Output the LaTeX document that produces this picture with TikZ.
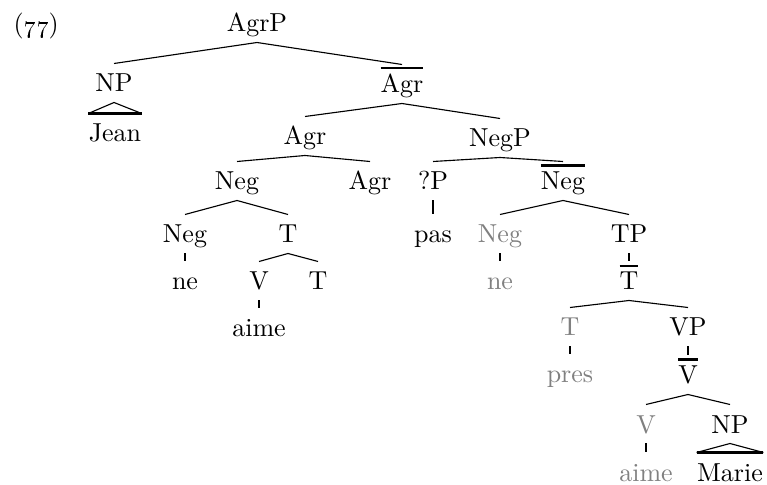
\documentclass[tikz,border=0pt]{standalone}
\newcommand\xbar[1]{\vbox{\hrule height 1.1pt\kern 2pt\hbox{#1}}}
\tikzset{
  lab/.style={anchor=base, inner sep=0pt, text height=11.2pt, text depth=4pt,
    font=\fontsize{10.4}{12}\selectfont},
  ghost/.style={lab, text=black!50},
  edge/.style={line width=0.45pt},
  unary/.style={line width=1pt},
  barlink/.style={line width=0.7pt},
}
\begin{document}
\begin{tikzpicture}[x=0.4pt,y=-0.4pt]
\path[use as bounding box] (0,0) rectangle (767,485);
\node[lab, anchor=base west] (ex) at (13,33) {(\oldstylenums{77})};
% nodes
\node[lab] (agrp) at (257,32) {AgrP};
\node[lab] (np1) at (114,92) {NP};
\node[lab] (agrbar) at (402,93) {\xbar{Agr}};
\node[lab] (jean) at (115,142) {Jean};
\node[lab] (agr3) at (305,145) {Agr};
\node[lab] (negp) at (500,147) {NegP};
\node[lab] (neg4) at (237,190) {Neg};
\node[lab] (agr4) at (370,190) {Agr};
\node[lab] (qp) at (433,190) {?P};
\node[lab] (negbar) at (563,190) {\xbar{Neg}};
\node[lab] (neg5) at (185,243) {Neg};
\node[lab] (t5) at (288,243) {T};
\node[lab] (pas) at (433,243) {pas};
\node[ghost] (neggr) at (500,243) {Neg};
\node[lab] (tp) at (629,243) {TP};
\node[lab] (ne6) at (185,290) {ne};
\node[lab] (v6) at (259,290) {V};
\node[lab] (t6) at (318,290) {T};
\node[ghost] (negr) at (500,290) {ne};
\node[lab] (tbar) at (629,290) {\xbar{T}};
\node[lab] (aime7) at (259,337) {aime};
\node[ghost] (tgr) at (570,336) {T};
\node[lab] (vp) at (688,336) {VP};
\node[ghost] (pres) at (570,383) {pres};
\node[lab] (vbar) at (688,384) {\xbar{V}};
\node[ghost] (vgr) at (646,433) {V};
\node[lab] (np2) at (730,433) {NP};
\node[ghost] (aimegr) at (646,481) {aime};
\node[lab] (marie) at (730,481) {Marie};
% branching edges
\draw[edge] (agrp.south) -- (np1.north);
\draw[edge] (agrp.south) -- (agrbar.north);
\draw[edge] (agrbar.south) -- (agr3.north);
\draw[edge] (agrbar.south) -- (negp.north);
\draw[edge] (agr3.south) -- (neg4.north);
\draw[edge] (agr3.south) -- (agr4.north);
\draw[edge] (negp.south) -- (qp.north);
\draw[edge] (negp.south) -- (negbar.north);
\draw[edge] (neg4.south) -- (neg5.north);
\draw[edge] (neg4.south) -- (t5.north);
\draw[edge] (negbar.south) -- (neggr.north);
\draw[edge] (negbar.south) -- (tp.north);
\draw[edge] (t5.south) -- (v6.north);
\draw[edge] (t5.south) -- (t6.north);
\draw[edge] (tbar.south) -- (tgr.north);
\draw[edge] (tbar.south) -- (vp.north);
\draw[edge] (vbar.south) -- (vgr.north);
\draw[edge] (vbar.south) -- (np2.north);
% unary edges
\draw[unary] (qp.south) -- (pas.north);
\draw[unary] (neg5.south) -- (ne6.north);
\draw[unary] (v6.south) -- (aime7.north);
\draw[unary] (neggr.south) -- (negr.north);
\draw[barlink] (tp.south) -- (tbar.north);
\draw[unary] (tgr.south) -- (pres.north);
\draw[barlink] (vp.south) -- (vbar.north);
\draw[unary] (vgr.south) -- (aimegr.north);
% triangles
\draw[edge] (jean.north west) -- (np1.south) -- (jean.north east);
\draw[unary] (jean.north west) -- (jean.north east);
\draw[edge] (marie.north west) -- (np2.south) -- (marie.north east);
\draw[unary] (marie.north west) -- (marie.north east);
\end{tikzpicture}
\end{document}
